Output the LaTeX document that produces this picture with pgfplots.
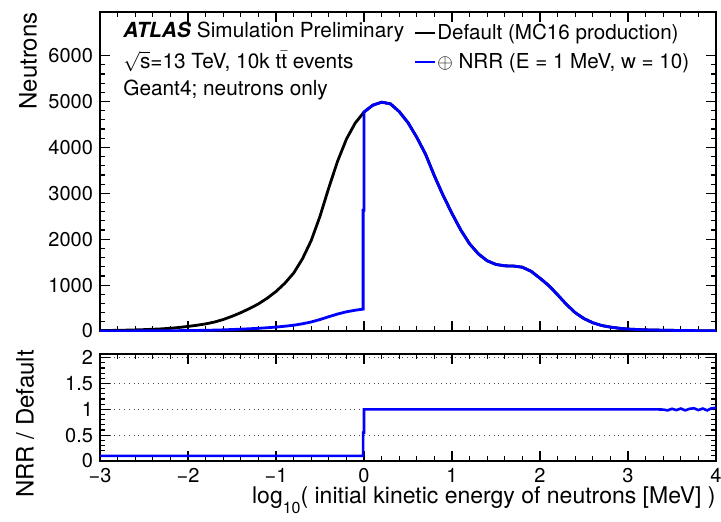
\documentclass[border=0pt]{standalone}
\usepackage{fontspec}
\setmainfont{TeX Gyre Heros}
\usepackage{pgfplots}
\usepackage{pgfplotstable}
\pgfplotsset{compat=1.18}
\definecolor{nrrblue}{RGB}{0,0,255}

\pgfplotstableread{
x y
-3.0 10
-2.9 12
-2.8 15
-2.7 19
-2.6 24
-2.5 30
-2.4 38
-2.3 47
-2.2 60
-2.1 78
-2.0 100
-1.9 125
-1.8 155
-1.7 195
-1.6 250
-1.5 320
-1.4 400
-1.3 490
-1.2 590
-1.1 715
-1.0 860
-0.9 1040
-0.8 1260
-0.7 1570
-0.6 1970
-0.5 2500
-0.4 3120
-0.3 3700
-0.2 4180
-0.1 4530
0.0 4770
0.1 4920
0.2 4985
0.3 4950
0.4 4780
0.5 4540
0.6 4220
0.7 3850
0.8 3380
0.9 2950
1.0 2560
1.1 2200
1.2 1900
1.3 1680
1.4 1530
1.5 1450
1.6 1420
1.7 1415
1.8 1390
1.9 1300
2.0 1150
2.1 990
2.2 790
2.3 580
2.4 400
2.5 270
2.6 180
2.7 120
2.8 85
2.9 60
3.0 42
3.2 25
3.4 17
3.6 11
3.8 7
4.0 5
}\defaulttab

\pgfplotstableread{
x y
-3.0 1
-2.9 1.2
-2.8 1.5
-2.7 1.9
-2.6 2.4
-2.5 3
-2.4 3.8
-2.3 4.7
-2.2 6
-2.1 7.8
-2.0 10
-1.9 12.5
-1.8 15.5
-1.7 19.5
-1.6 25
-1.5 32
-1.4 40
-1.3 49
-1.2 59
-1.1 71
-1.0 86
-0.9 104
-0.8 126
-0.7 157
-0.6 197
-0.5 250
-0.4 312
-0.3 370
-0.2 418
-0.1 453
-0.01 477
-0.01 2630
0.0 2630
0.0 4770
0.1 4920
0.2 4985
0.3 4950
0.4 4780
0.5 4540
0.6 4220
0.7 3850
0.8 3380
0.9 2950
1.0 2560
1.1 2200
1.2 1900
1.3 1680
1.4 1530
1.5 1450
1.6 1420
1.7 1415
1.8 1390
1.9 1300
2.0 1150
2.1 990
2.2 790
2.3 580
2.4 400
2.5 270
2.6 180
2.7 120
2.8 85
2.9 60
3.0 42
3.2 25
3.4 17
3.6 11
3.8 7
4.0 5
}\nrrtab

\pgfplotstableread{
x y
-3.0 0.1
-0.01 0.1
-0.01 0.55
0.0 0.55
0.0 1.0
1.0 1.0
2.0 1.0
3.0 1.0
3.3 1.0
3.4 0.995
3.45 0.98
3.5 1.01
3.55 0.985
3.6 1.015
3.65 0.98
3.7 1.01
3.75 1.02
3.8 0.985
3.85 1.015
3.9 0.98
3.95 1.02
4.0 1.03
}\ratiotab

\pgfplotsset{
  atlas/.style={
    scale only axis,
    width=308pt,
    xmin=-3, xmax=4,
    tick align=inside,
    major tick length=5pt,
    minor tick length=2.5pt,
    minor x tick num=4,
    every tick/.style={black, line width=0.6pt},
    axis line style={line width=0.8pt},
    tick label style={font=\fontsize{10}{12}\selectfont},
    /pgf/number format/assume math mode=true,
    /pgf/number format/1000 sep={},
    scaled y ticks=false,
    xtick={-3,-2,...,4},
  }
}

\begin{document}
\begin{tikzpicture}
\path[use as bounding box] (-50pt,-95pt) rectangle (310.5pt,165.5pt);
\begin{axis}[atlas,
  name=top,
  at={(0,0)}, anchor=south west,
  height=159.5pt,
  ymin=0, ymax=6950,
  ytick={0,1000,...,6000},
  minor y tick num=4,
  xticklabels={},
  ylabel={Neutrons},
  ylabel style={at={(axis description cs:-0.132,1)}, anchor=north east, inner sep=0pt, font=\fontsize{12}{14}\selectfont},
  legend style={at={(axis description cs:0.508,0.968)}, anchor=north west, draw=none, fill=none,
    font=\fontsize{10.3}{12}\selectfont, inner sep=0pt, row sep=4.2pt,
    nodes={inner sep=0.6pt}},
  legend cell align=left,
  legend image code/.code={\draw[#1] (0pt,0pt) -- (10pt,0pt);},
]
\addplot[black, line width=1.4pt] table[x=x,y=y] {\defaulttab};
\addlegendentry{Default (MC16 production)}
\addplot[nrrblue, line width=1.4pt] table[x=x,y=y] {\nrrtab};
\addlegendentry{$\oplus$ NRR (E = 1 MeV, w = 10)}
\node[anchor=base west, inner sep=0pt, font=\fontsize{10.4}{12}\selectfont] at (axis description cs:0.0373,0.921) {\textbf{\textit{ATLAS}} Simulation Preliminary};
\node[anchor=base west, inner sep=0pt, font=\fontsize{10.4}{12}\selectfont] at (axis description cs:0.0373,0.824) {$\sqrt{\mbox{s}}$=13 TeV, 10k t$\bar{\mbox{t}}$ events};
\node[anchor=base west, inner sep=0pt, font=\fontsize{10.4}{12}\selectfont] at (axis description cs:0.0373,0.738) {Geant4; neutrons only};
\end{axis}
\begin{axis}[atlas,
  name=bot,
  at={(top.south west)}, yshift=-11.5pt, anchor=north west,
  height=53.5pt,
  ymin=0, ymax=2.07,
  ytick={0,0.5,1,1.5,2},
  minor y tick num=4,
  xticklabels={−3,−2,−1,0,1,2,3,4},
  ymajorgrids,
  grid style={dotted, line width=0.5pt, black!70},
  ylabel={NRR / Default},
  ylabel style={at={(axis description cs:-0.137,1.04)}, anchor=north east, inner sep=0pt, font=\fontsize{12}{14}\selectfont},
  xlabel={log\raisebox{-5pt}{\fontsize{8}{9}\selectfont 10}( initial kinetic energy of neutrons [MeV] )},
  xlabel style={at={(axis description cs:1,0)}, anchor=north east, inner sep=0pt, yshift=-12.5pt, font=\fontsize{11.5}{13}\selectfont},
]
\addplot[nrrblue, line width=1.3pt] table[x=x,y=y] {\ratiotab};
\end{axis}
\end{tikzpicture}
\end{document}
